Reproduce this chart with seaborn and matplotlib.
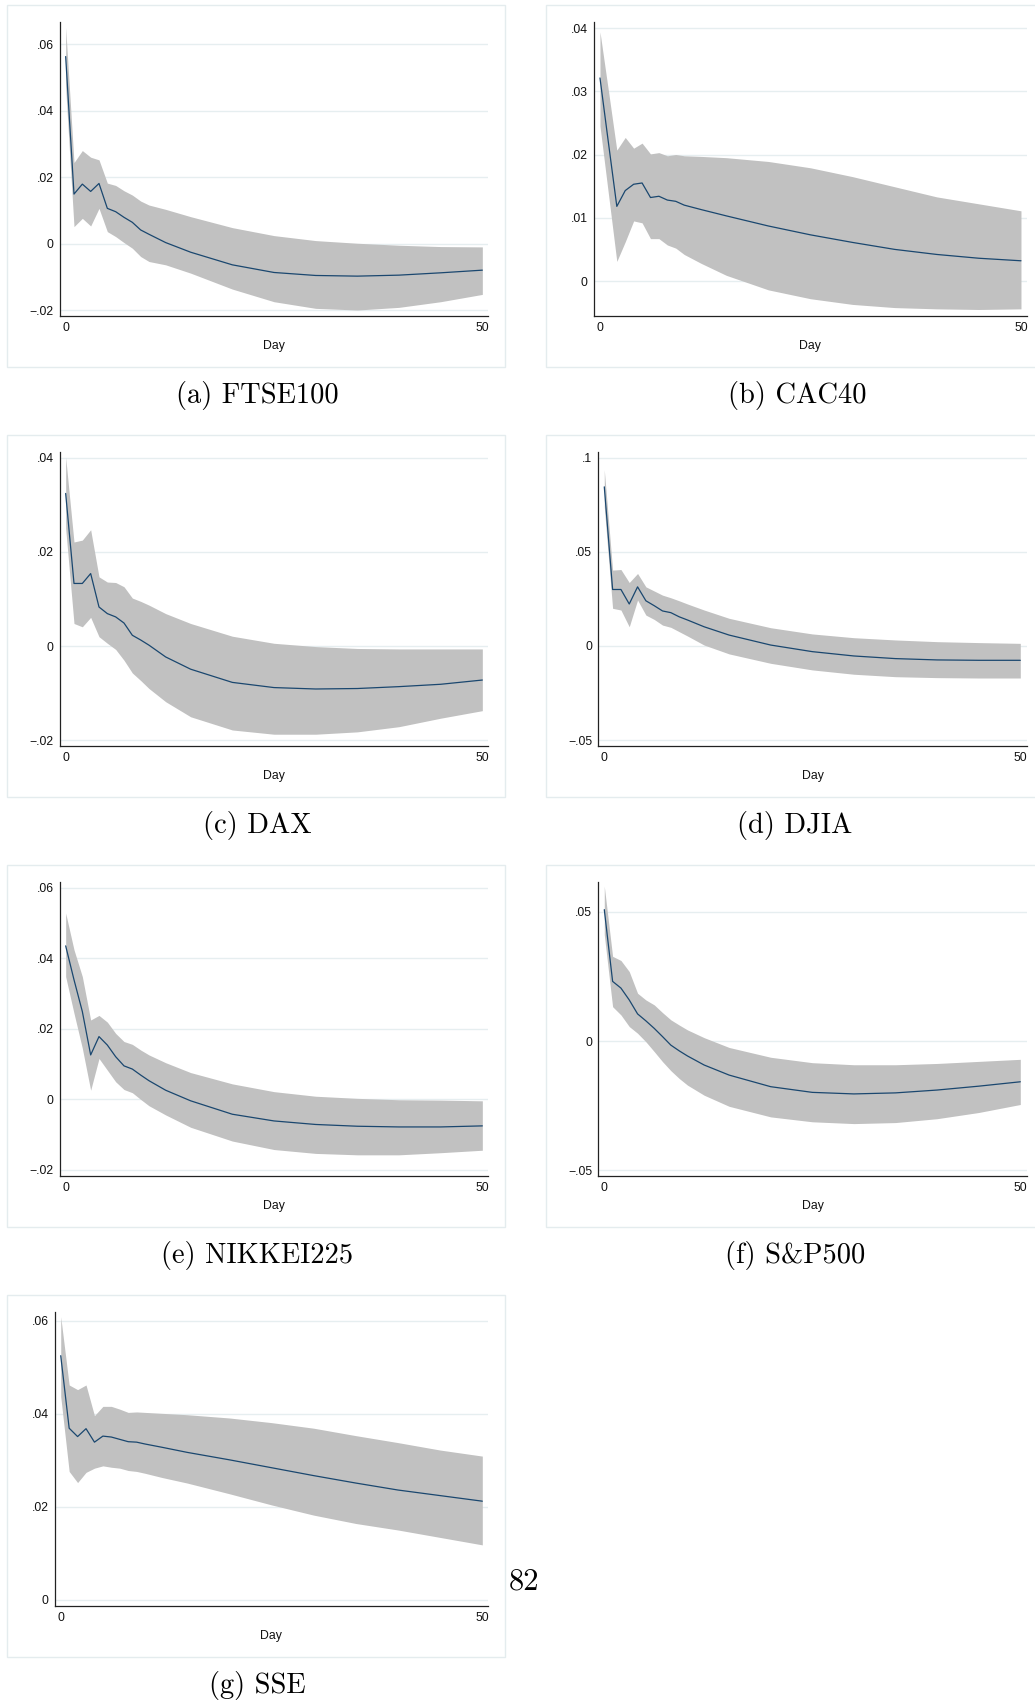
import numpy as np
import pandas as pd
import matplotlib
matplotlib.use("Agg")
import matplotlib.pyplot as plt
import seaborn as sns
from matplotlib.patches import Rectangle

sns.set_style("white")
plt.rcParams['font.family'] = ['Liberation Sans', 'DejaVu Sans']

# ---------------- data ----------------
days = [0, 1, 2, 3, 4, 5, 6, 7, 8, 9, 10, 12, 15, 20, 25, 30, 35, 40, 45, 50]

ftse_irf = [0.0563, 0.0149, 0.0179, 0.0157, 0.0181, 0.0106, 0.0096, 0.0079, 0.0064, 0.0041, 0.0028,
            0.0003, -0.0026, -0.0064, -0.0087, -0.0096, -0.0098, -0.0095, -0.0088, -0.0080]
ftse_up = [0.0651, 0.0244, 0.0280, 0.0260, 0.0252, 0.0182, 0.0175, 0.0159, 0.0146, 0.0128, 0.0116,
           0.0103, 0.0081, 0.0048, 0.0024, 0.0009, 0.0001, -0.0005, -0.0009, -0.0010]
ftse_lo = [0.0470, 0.0051, 0.0076, 0.0053, 0.0106, 0.0036, 0.0021, 0.0003, -0.0014, -0.0039, -0.0054,
           -0.0064, -0.0089, -0.0137, -0.0175, -0.0195, -0.0200, -0.0192, -0.0175, -0.0153]

cac_irf = [0.0321, 0.0219, 0.0118, 0.0143, 0.0153, 0.0155, 0.0132, 0.0134, 0.0128, 0.0126, 0.0120,
           0.0113, 0.0103, 0.0087, 0.0073, 0.0061, 0.0050, 0.0042, 0.0036, 0.0032]
cac_up = [0.0394, 0.0301, 0.0207, 0.0227, 0.0210, 0.0218, 0.0201, 0.0203, 0.0198, 0.0200, 0.0198,
          0.0197, 0.0195, 0.0189, 0.0179, 0.0165, 0.0149, 0.0133, 0.0122, 0.0111]
cac_lo = [0.0245, 0.0138, 0.0031, 0.0062, 0.0095, 0.0092, 0.0067, 0.0067, 0.0057, 0.0052, 0.0042,
          0.0028, 0.0009, -0.0014, -0.0028, -0.0037, -0.0042, -0.0044, -0.0045, -0.0044]

dax_irf = [0.0324, 0.0133, 0.0133, 0.0154, 0.0083, 0.0069, 0.0062, 0.0049, 0.0023, 0.0013, 0.0002,
           -0.0023, -0.0049, -0.0077, -0.0088, -0.0091, -0.0090, -0.0086, -0.0081, -0.0072]
dax_up = [0.0401, 0.0221, 0.0225, 0.0247, 0.0147, 0.0136, 0.0135, 0.0126, 0.0102, 0.0095, 0.0087,
          0.0069, 0.0048, 0.0021, 0.0006, -0.0001, -0.0005, -0.0006, -0.0006, -0.0006]
dax_lo = [0.0250, 0.0048, 0.0041, 0.0061, 0.0020, 0.0006, -0.0007, -0.0030, -0.0057, -0.0073, -0.0090,
          -0.0118, -0.0150, -0.0178, -0.0187, -0.0187, -0.0182, -0.0171, -0.0153, -0.0137]

djia_irf = [0.0845, 0.0300, 0.0300, 0.0223, 0.0314, 0.0240, 0.0214, 0.0186, 0.0177, 0.0155, 0.0138,
            0.0102, 0.0058, 0.0005, -0.0030, -0.0053, -0.0067, -0.0074, -0.0076, -0.0076]
djia_up = [0.0936, 0.0403, 0.0406, 0.0337, 0.0385, 0.0314, 0.0292, 0.0270, 0.0256, 0.0240, 0.0223,
           0.0191, 0.0147, 0.0097, 0.0064, 0.0044, 0.0032, 0.0023, 0.0018, 0.0014]
djia_lo = [0.0739, 0.0200, 0.0191, 0.0102, 0.0244, 0.0164, 0.0141, 0.0111, 0.0099, 0.0076, 0.0053,
           0.0005, -0.0042, -0.0092, -0.0127, -0.0150, -0.0163, -0.0168, -0.0170, -0.0170]

nikkei_irf = [0.0435, 0.0339, 0.0249, 0.0126, 0.0178, 0.0154, 0.0121, 0.0095, 0.0086, 0.0069, 0.0053,
              0.0026, -0.0004, -0.0042, -0.0061, -0.0071, -0.0076, -0.0078, -0.0078, -0.0075]
nikkei_up = [0.0528, 0.0424, 0.0348, 0.0225, 0.0238, 0.0219, 0.0187, 0.0164, 0.0156, 0.0140, 0.0126,
             0.0104, 0.0076, 0.0044, 0.0022, 0.0009, 0.0003, -0.0001, -0.0002, -0.0004]
nikkei_lo = [0.0348, 0.0244, 0.0145, 0.0026, 0.0116, 0.0083, 0.0050, 0.0028, 0.0019, 0.0000, -0.0018,
             -0.0044, -0.0079, -0.0118, -0.0142, -0.0153, -0.0157, -0.0157, -0.0151, -0.0144]

sp_irf = [0.0509, 0.0231, 0.0205, 0.0159, 0.0105, 0.0078, 0.0049, 0.0017, -0.0016, -0.0038, -0.0058,
          -0.0093, -0.0132, -0.0177, -0.0199, -0.0205, -0.0201, -0.0190, -0.0175, -0.0158]
sp_up = [0.0600, 0.0328, 0.0312, 0.0269, 0.0185, 0.0159, 0.0140, 0.0110, 0.0082, 0.0062, 0.0043,
         0.0013, -0.0025, -0.0063, -0.0084, -0.0092, -0.0092, -0.0087, -0.0079, -0.0071]
sp_lo = [0.0412, 0.0133, 0.0101, 0.0056, 0.0030, -0.0003, -0.0041, -0.0080, -0.0115, -0.0145, -0.0171,
         -0.0210, -0.0253, -0.0294, -0.0313, -0.0320, -0.0316, -0.0301, -0.0277, -0.0246]

sse_irf = [0.0525, 0.0369, 0.0351, 0.0368, 0.0339, 0.0352, 0.0350, 0.0345, 0.0340, 0.0339, 0.0335,
           0.0328, 0.0317, 0.0301, 0.0284, 0.0267, 0.0251, 0.0236, 0.0224, 0.0212]
sse_up = [0.0609, 0.0462, 0.0452, 0.0462, 0.0396, 0.0416, 0.0416, 0.0410, 0.0403, 0.0404, 0.0403,
          0.0401, 0.0398, 0.0391, 0.0381, 0.0369, 0.0353, 0.0338, 0.0322, 0.0309]
sse_lo = [0.0437, 0.0276, 0.0252, 0.0274, 0.0283, 0.0288, 0.0285, 0.0283, 0.0278, 0.0276, 0.0272,
          0.0263, 0.0251, 0.0228, 0.0204, 0.0182, 0.0164, 0.0150, 0.0134, 0.0118]

captions = ["(a) FTSE100", "(b) CAC40", "(c) DAX", "(d) DJIA", "(e) NIKKEI225", "(f) S&P500", "(g) SSE"]

yticks_a = [-0.02, 0, 0.02, 0.04, 0.06]
ylabels_a = ["\u2212.02", "0", ".02", ".04", ".06"]
yticks_b = [0, 0.01, 0.02, 0.03, 0.04]
ylabels_b = ["0", ".01", ".02", ".03", ".04"]
yticks_c = [-0.02, 0, 0.02, 0.04]
ylabels_c = ["\u2212.02", "0", ".02", ".04"]
yticks_d = [-0.05, 0, 0.05, 0.1]
ylabels_d = ["\u2212.05", "0", ".05", ".1"]
yticks_e = [-0.02, 0, 0.02, 0.04, 0.06]
ylabels_e = ["\u2212.02", "0", ".02", ".04", ".06"]
yticks_f = [-0.05, 0, 0.05]
ylabels_f = ["\u2212.05", "0", ".05"]
yticks_g = [0, 0.02, 0.04, 0.06]
ylabels_g = ["0", ".02", ".04", ".06"]
xticks = [0, 50]
xlabels = ["0", "50"]
page_number = "82"

series = [
    (ftse_irf, ftse_lo, ftse_up, yticks_a, ylabels_a),
    (cac_irf, cac_lo, cac_up, yticks_b, ylabels_b),
    (dax_irf, dax_lo, dax_up, yticks_c, ylabels_c),
    (djia_irf, djia_lo, djia_up, yticks_d, ylabels_d),
    (nikkei_irf, nikkei_lo, nikkei_up, yticks_e, ylabels_e),
    (sp_irf, sp_lo, sp_up, yticks_f, ylabels_f),
    (sse_irf, sse_lo, sse_up, yticks_g, ylabels_g),
]

# ---------------- layout (pixels) ----------------
W, H = 1035, 1703
# axes box (x0, y0, x1, y1), xlim, ylim, frame (x0,y0,x1,y1), caption (x,y)
layout = [
    ((60, 22, 488, 316), (-0.68, 50.68), (-0.0218, 0.0667), (7, 5, 505, 367), (257, 396)),
    ((594, 22, 1026.7, 316), (-0.71, 50.68), (-0.00553, 0.04095), (546, 5, 1036, 367), (797, 396)),
    ((60, 452, 488, 746), (-0.68, 50.68), (-0.0212, 0.0412), (7, 435, 505, 797), (257, 826)),
    ((598.3, 452, 1026.7, 746), (-0.72, 50.77), (-0.0531, 0.103), (546, 435, 1036, 797), (795, 826)),
    ((60, 882, 488, 1176), (-0.68, 50.68), (-0.0217, 0.0616), (7, 865, 505, 1227), (257, 1256)),
    ((598.3, 882, 1026.7, 1176), (-0.72, 50.77), (-0.0523, 0.0616), (546, 865, 1036, 1227), (795, 1256)),
    ((55, 1312, 487.7, 1606), (-0.68, 50.64), (-0.00135, 0.0619), (7, 1295, 505, 1657), (257, 1686)),
]

navy = "#1a476f"
shade = "#c1c1c1"
gridc = "#e6eef0"
framec = "#e4ecee"

fig = plt.figure(figsize=(W / 100, H / 100), dpi=100)

for i, ((irf, lo, up, yt, yl), (box, xl, ylim, frame, cap)) in enumerate(zip(series, layout)):
    # outer frame (Stata graph region)
    fx0, fy0, fx1, fy1 = frame
    fig.patches.append(Rectangle((fx0 / W, 1 - fy1 / H), (fx1 - fx0) / W, (fy1 - fy0) / H,
                                 transform=fig.transFigure, fill=False,
                                 edgecolor=framec, linewidth=1.0))
    x0, y0, x1, y1 = box
    ax = fig.add_axes([x0 / W, 1 - y1 / H, (x1 - x0) / W, (y1 - y0) / H])
    df = pd.DataFrame({"Day": days, "irf": irf, "lo": lo, "up": up})
    ax.fill_between(df["Day"], df["lo"], df["up"], color=shade, linewidth=0, zorder=1)
    sns.lineplot(data=df, x="Day", y="irf", ax=ax, color=navy, linewidth=0.9, zorder=3)
    ax.set_xlim(*xl)
    ax.set_ylim(*ylim)
    ax.set_yticks(yt)
    ax.set_yticklabels(yl)
    ax.set_xticks(xticks)
    ax.set_xticklabels(xlabels)
    ax.yaxis.grid(True, color=gridc, linewidth=1.0)
    ax.xaxis.grid(False)
    ax.set_axisbelow(True)
    for s in ["top", "right"]:
        ax.spines[s].set_visible(False)
    for s in ["left", "bottom"]:
        ax.spines[s].set_color("#222222")
        ax.spines[s].set_linewidth(0.9)
    ax.tick_params(axis="both", direction="out", length=3.0, width=0.8, color="#222222",
                   labelsize=8.8, pad=1.5, labelcolor="#111111")
    ax.set_ylabel("")
    ax.set_xlabel("Day", fontsize=8.8, color="#111111")
    ax.xaxis.set_label_coords(0.5, -0.102)
    ax.xaxis.label.set_va("center")
    ax.patch.set_alpha(0)
    fig.text(cap[0] / W, 1 - cap[1] / H, captions[i],
             family="cmr10", fontsize=20.5, ha="center", va="center", color="black")

fig.text(524 / W, 1 - 1582 / H, page_number, family="cmr10", fontsize=22,
         ha="center", va="center", color="black")

fig.savefig("out.png", dpi=100, facecolor="white")
